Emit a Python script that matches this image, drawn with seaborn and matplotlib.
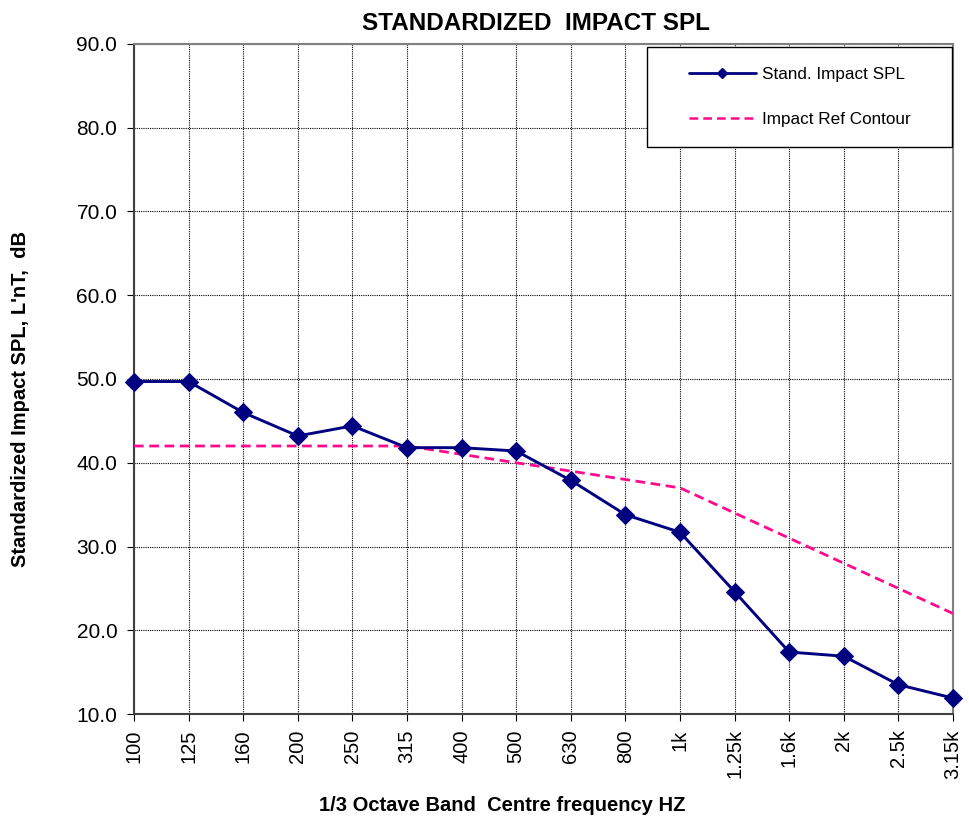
import matplotlib
matplotlib.use("Agg")
import matplotlib.pyplot as plt
import seaborn as sns
import pandas as pd
from matplotlib.lines import Line2D
from matplotlib.patches import Rectangle

# 1/3 octave band centre frequencies
freq_labels = ["100", "125", "160", "200", "250", "315", "400", "500",
               "630", "800", "1k", "1.25k", "1.6k", "2k", "2.5k", "3.15k"]
# measured standardized impact SPL, dB
impact_spl = [49.7, 49.7, 46.0, 43.2, 44.4, 41.8, 41.8, 41.4,
              37.9, 33.8, 31.7, 24.6, 17.4, 16.9, 13.5, 11.9]
# shifted reference contour, dB
ref_contour = [42, 42, 42, 42, 42, 42, 41, 40,
               39, 38, 37, 34, 31, 28, 25, 22]

df = pd.DataFrame({"band": range(len(freq_labels)),
                   "spl": impact_spl, "ref": ref_contour})

sns.set_style("white")
plt.rcParams["font.family"] = ["Liberation Sans", "DejaVu Sans"]
plt.rcParams.update({"text.color": "black", "axes.labelcolor": "black",
                     "xtick.color": "black", "ytick.color": "black"})

W, H = 970, 818
fig = plt.figure(figsize=(W / 100, H / 100), dpi=100)
ax = fig.add_axes([134 / W, 1 - 714 / H, (953 - 134) / W, (714 - 44) / H])

navy = "#000080"
pink = "#ff0a8c"
dash = (0, (3.5, 2))

sns.lineplot(data=df, x="band", y="ref", ax=ax, color=pink, lw=2.0,
             linestyle=dash, zorder=3)
sns.lineplot(data=df, x="band", y="spl", ax=ax, color=navy, lw=2.1,
             marker="D", markersize=9, markeredgecolor=navy, zorder=4,
             clip_on=False)

ax.set_xlim(0, len(freq_labels) - 1)
ax.set_ylim(10, 90)
ax.set_xticks(range(len(freq_labels)))
ax.set_xticklabels(freq_labels, rotation=90, fontsize=14.5)
ax.set_yticks(range(10, 91, 10))
ax.set_yticklabels([f"{v:.1f}" for v in range(10, 91, 10)], fontsize=15)
ax.tick_params(axis="both", direction="out", length=5, width=0.8, color="black",
               bottom=True, left=True)
ax.tick_params(axis="y", pad=7)
ax.tick_params(axis="x", pad=6)

ax.grid(True, color="black", linestyle=(0, (1, 1)), linewidth=0.8)
for side in ["left", "bottom"]:
    ax.spines[side].set_color("#404040")
    ax.spines[side].set_linewidth(1.5)
for side in ["top", "right"]:
    ax.spines[side].set_color("#808080")
    ax.spines[side].set_linewidth(1.5)

ax.set_xlabel("1/3 Octave Band  Centre frequency HZ", fontsize=14.5,
              fontweight="bold")
ax.xaxis.label.set_va("center")
ax.xaxis.set_label_coords(0.45, -0.136)
ax.set_ylabel("Standardized Impact SPL, L'nT,  dB", fontsize=14.5,
              fontweight="bold")
ax.yaxis.label.set_va("center")
ax.yaxis.set_label_coords(-0.139, 0.47)
ax.set_title("STANDARDIZED  IMPACT SPL", fontsize=17.5, fontweight="bold",
             x=0.491, pad=10)

# legend box like the original chart
ax.add_patch(Rectangle((647 / W, 1 - 147 / H), (952 - 647) / W, 100 / H,
                       transform=fig.transFigure, facecolor="white",
                       edgecolor="black", lw=1.0, zorder=5, clip_on=False))
handles = [
    Line2D([], [], color=navy, lw=2, marker="D", markersize=5),
    Line2D([], [], color=pink, lw=1.8, linestyle=dash),
]
leg = ax.legend(handles, ["Stand. Impact SPL", "Impact Ref Contour"],
                loc="center left", bbox_to_anchor=(689 / W, 1 - 97 / H),
                bbox_transform=fig.transFigure,
                fontsize=12.3, frameon=False, handlelength=3.9,
                labelspacing=1.75, borderpad=0.0, handletextpad=0.4,
                borderaxespad=0.0)
leg.set_zorder(6)

fig.savefig("out.png", dpi=100)
